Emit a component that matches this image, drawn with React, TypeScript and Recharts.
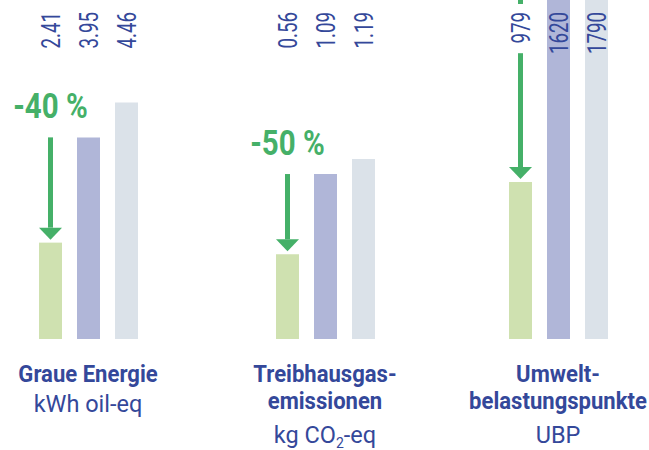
import React from "react";
import { BarChart, Bar, XAxis, YAxis, LabelList } from "recharts";

// one entry per indicator group
const titles = [["Graue Energie"], ["Treibhausgas-", "emissionen"], ["Umwelt-", "belastungspunkte"]];
const units = ["kWh oil-eq", "kg CO₂-eq", "UBP"];
const greenValues = [2.41, 0.56, 979];
const blueValues = [3.95, 1.09, 1620];
const greyValues = [4.46, 1.19, 1790];
const reductions = ["-40 %", "-50 %", ""];

// each group has its own (truncated) value axis
const domains: [number, number][] = [
  [1, 5.96],
  [0, 2.24],
  [426, 1620],
];
const groupCenters = [87.5, 324.5, 558];

const GREEN_BAR = "#cfe1b0";
const BLUE_BAR = "#b0b6d8";
const GREY_BAR = "#dbe2e9";
const ARROW = "#45b068";
const TEXT = "#34489a";
const FONT = "Roboto, sans-serif";

const CHART_W = 216;
const CHART_H = 450;

function ValueLabel(props: any) {
  const { x, width, value, masked } = props;
  const cx = Number(x) + Number(width) / 2;
  const len = String(value).length * 10.4;
  return (
    <g>
      {masked && <rect x={cx - 10} y={4} width={20} height={len + 18} fill="#fff" />}
      <g transform={`translate(${cx + 9},12) rotate(-90) scale(0.75,1)`}>
        <text x={0} y={0} textAnchor="end" fontSize={25} fontFamily={FONT} fill={TEXT}>
          {String(value)}
        </text>
      </g>
    </g>
  );
}

function ArrowBar(props: any) {
  const { x, y, width, height, fill, payload, dmin, label } = props;
  const cx = x + width / 2;
  const bottom = y + height;
  const k = height / (payload.green - dmin);
  const yStart = Math.max(0, bottom - k * (payload.blue - dmin));
  const headBase = y - 15;
  return (
    <g>
      <rect x={x} y={y} width={width} height={height} fill={fill} />
      <rect x={cx - 2.5} y={yStart} width={5} height={Math.max(0, headBase - yStart)} fill={ARROW} />
      <polygon points={`${cx - 11.5},${headBase} ${cx + 11.5},${headBase} ${cx},${y - 3}`} fill={ARROW} />
      {label && (
        <g transform={`translate(${cx},${yStart - 19}) scale(0.82,1)`}>
          <text x={0} y={0} textAnchor="middle" fontSize={36} fontWeight={700} fontFamily={FONT} fill={ARROW}>
            {label}
          </text>
        </g>
      )}
    </g>
  );
}

function UnitText({ unit }: { unit: string }) {
  const parts = unit.split("₂");
  if (parts.length === 1) return <>{unit}</>;
  return (
    <>
      {parts[0]}
      <tspan fontSize={14} dy={5}>2</tspan>
      <tspan dy={-5}>{parts[1]}</tspan>
    </>
  );
}

function CategoryTick(props: any) {
  const { x, y, payload } = props;
  const i = payload.value as number;
  const lines = titles[i];
  const unitY = 73 + 31 * (lines.length - 1);
  return (
    <g transform={`translate(${x},${y})`}>
      {lines.map((t, j) => (
        <g key={j} transform={`translate(0,${43 + 27 * j}) scale(0.92,1)`}>
          <text x={0} y={0} textAnchor="middle" fontSize={24} fontWeight={700} fontFamily={FONT} fill={TEXT}>
            {t}
          </text>
        </g>
      ))}
      <text x={0} y={unitY} textAnchor="middle" fontSize={23.5} fontFamily={FONT} fill={TEXT}>
        <UnitText unit={units[i]} />
      </text>
    </g>
  );
}

function Group({ i }: { i: number }) {
  const data = [{ name: i, green: greenValues[i], blue: blueValues[i], grey: greyValues[i] }];
  const dmin = domains[i][0];
  return (
    <div style={{ position: "absolute", left: groupCenters[i] - CHART_W / 2, top: 0 }}>
      <BarChart
        width={CHART_W}
        height={CHART_H}
        data={data}
        margin={{ top: 0, right: 0, bottom: 0, left: 0 }}
        barGap={15}
        barCategoryGap={0}
      >
        <XAxis
          dataKey="name"
          axisLine={false}
          tickLine={false}
          tickSize={0}
          tickMargin={0}
          height={111}
          interval={0}
          tick={(p: any) => <CategoryTick {...p} />}
        />
        <YAxis hide type="number" domain={domains[i]} allowDataOverflow />
        <Bar
          dataKey="green"
          fill={GREEN_BAR}
          barSize={23}
          isAnimationActive={false}
          shape={(p: any) => <ArrowBar {...p} dmin={dmin} label={reductions[i]} />}
        >
          <LabelList dataKey="green" content={(p: any) => <ValueLabel {...p} masked />} />
        </Bar>
        <Bar dataKey="blue" fill={BLUE_BAR} barSize={23} isAnimationActive={false}>
          <LabelList dataKey="blue" content={(p: any) => <ValueLabel {...p} />} />
        </Bar>
        <Bar dataKey="grey" fill={GREY_BAR} barSize={23} isAnimationActive={false}>
          <LabelList dataKey="grey" content={(p: any) => <ValueLabel {...p} />} />
        </Bar>
      </BarChart>
    </div>
  );
}

export default function App() {
  return (
    <div
      style={{
        position: "absolute",
        left: 0,
        top: 0,
        width: 649,
        height: 450,
        overflow: "hidden",
        background: "#fff",
      }}
    >
      {titles.map((_, i) => (
        <Group key={i} i={i} />
      ))}
    </div>
  );
}
